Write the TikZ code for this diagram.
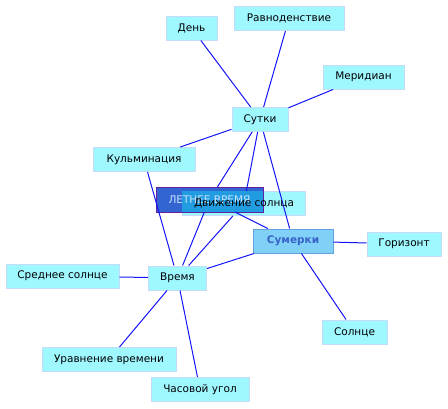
\documentclass[tikz,border=0pt]{standalone}
\usepackage{fontspec}
\setmainfont{DejaVu Sans}
\definecolor{boxfill}{RGB}{160,248,255}
\definecolor{boxline}{RGB}{196,220,250}
\definecolor{edgec}{RGB}{20,20,250}
\definecolor{sumfill}{RGB}{128,208,248}
\definecolor{sumline}{RGB}{96,160,224}
\definecolor{sumtext}{RGB}{56,100,200}
\definecolor{letofill}{RGB}{50,100,210}
\definecolor{letoline}{RGB}{96,32,160}
\definecolor{letotext}{RGB}{200,228,255}
\definecolor{overlapc}{RGB}{34,156,224}
\tikzset{
  box/.style={draw=boxline, fill=boxfill, line width=1pt, inner sep=0pt,
    font=\fontsize{10.5}{12}\selectfont, text=black},
  edge/.style={draw=edgec, line width=1pt},
}
\newcommand{\bx}[5]{\node[box, minimum width=#3pt, minimum height=#4pt] (#1) at (#2) {#5};}
\begin{document}
\begin{tikzpicture}[x=1pt,y=-1pt]
\useasboundingbox (0,0) rectangle (448,408);
% plain nodes
\bx{den}{191.5,28}{51}{24}{День}
\bx{ravn}{289,18.5}{110}{24}{Равноденствие}
\bx{merid}{363.5,77}{81}{24}{Меридиан}
\bx{sutki}{260,119.5}{56}{24}{Сутки}
\bx{kulm}{144,159.5}{102}{24}{Кульминация}
\bx{gorizont}{404,244}{74}{24}{Горизонт}
\bx{solnce}{354.5,332}{65}{24}{Солнце}
\bx{vremya}{177.5,278}{58}{24}{Время}
\bx{srednee}{62.5,276}{113}{24}{Среднее солнце}
\bx{uravn}{109,359.5}{134}{24}{Уравнение времени}
\bx{chas}{200,389.5}{98}{24}{Часовой угол}
\node[box, draw=sumline, fill=sumfill, minimum width=80pt, minimum height=24pt,
  text=sumtext, font=\fontsize{10.5}{12}\selectfont\bfseries] (sumerki) at (293,241) {Сумерки};
% overlapping pair
\node[box, minimum width=123pt, minimum height=24pt] (dvizh) at (244,203.5) {};
\node[box, draw=none, fill=letofill, minimum width=106pt, minimum height=24pt] (leto) at (209.5,199.5) {};
\fill[overlapc] (dvizh.north west) rectangle (leto.south east);
\draw[letoline, line width=1pt] (leto.south west) rectangle (leto.north east);
\node[text=letotext, font=\fontsize{10.5}{12}\selectfont] at (leto.center) {ЛЕТНЕЕ ВРЕМЯ};
% edges
\draw[edge] (sutki) -- (den);
\draw[edge] (sutki) -- (ravn);
\draw[edge] (sutki) -- (merid);
\draw[edge] (sutki) -- (kulm);
\draw[edge] (sutki) -- (leto);
\draw[edge] (sutki) -- (dvizh);
\draw[edge] (sutki) -- (sumerki);
\draw[edge] (kulm) -- (vremya);
\draw[edge] (vremya) -- (leto);
\draw[edge] (vremya) -- (dvizh);
\draw[edge] (vremya) -- (sumerki);
\draw[edge] (leto) -- (sumerki);
\draw[edge] (vremya) -- (srednee);
\draw[edge] (vremya) -- (uravn);
\draw[edge] (vremya) -- (chas);
\draw[edge] (sumerki) -- (gorizont);
\draw[edge] (sumerki) -- (solnce);
\node[text=black, font=\fontsize{10.5}{12}\selectfont] at (dvizh.center) {Движение солнца};
\end{tikzpicture}
\end{document}
